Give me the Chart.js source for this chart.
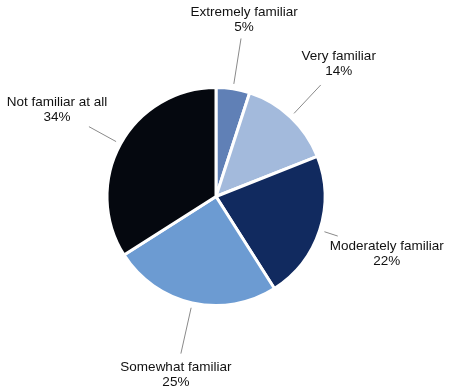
<!DOCTYPE html>
<html>
<head>
<meta charset="utf-8">
<script src="https://cdn.jsdelivr.net/npm/chart.js@4"></script>
<style>
  body { margin: 0; background: #fff; }
  #wrap { width: 450px; height: 390px; }
</style>
</head>
<body>
<div id="wrap"><canvas id="pie" width="450" height="390"></canvas></div>
<script>
const categories = ["Extremely familiar", "Very familiar", "Moderately familiar", "Somewhat familiar", "Not familiar at all"];
const shares = [5, 14, 22, 25, 34];
const colors = ["#6080b6", "#a3badc", "#112a5f", "#6c9bd2", "#05080f"];

// leader line length past the rim, then text block offset from the line end
const labelPlacement = [
    { len: 51, dx: 3, dy: -19 },
    { len: 44, dx: 18, dy: -21 },
    { len: 19, dx: 49, dy: 18 },
    { len: 52, dx: -5, dy: 21 },
    { len: 36, dx: -32, dy: -17 },
];

const outsideLabels = {
    id: "outsideLabels",
    afterDatasetsDraw(chart) {
        const ctx = chart.ctx;
        const arcs = chart.getDatasetMeta(0).data;
        ctx.save();
        ctx.font = "13.5px 'Liberation Sans', Arial, sans-serif";
        ctx.textAlign = "center";
        ctx.textBaseline = "middle";
        arcs.forEach((arc, i) => {
            const mid = (arc.startAngle + arc.endAngle) / 2;
            const cx = Math.cos(mid), cy = Math.sin(mid);
            const r = arc.outerRadius;
            const p = labelPlacement[i];
            const x0 = arc.x + cx * (r + 5), y0 = arc.y + cy * (r + 5);
            const x1 = arc.x + cx * (r + p.len), y1 = arc.y + cy * (r + p.len);
            ctx.strokeStyle = "#8a8a8a";
            ctx.lineWidth = 1;
            ctx.beginPath();
            ctx.moveTo(x0, y0);
            ctx.lineTo(x1, y1);
            ctx.stroke();
            const tx = x1 + p.dx, ty = y1 + p.dy;
            ctx.fillStyle = "#111";
            ctx.fillText(categories[i], tx, ty - 7.5);
            ctx.fillText(shares[i] + "%", tx, ty + 7.5);
        });
        ctx.restore();
    }
};

new Chart(document.getElementById("pie"), {
    type: "pie",
    data: {
        labels: categories,
        datasets: [{
            data: shares,
            backgroundColor: colors,
            borderColor: "#fff",
            borderWidth: 3,
        }]
    },
    options: {
        responsive: false,
        animation: false,
        layout: { padding: { top: 86, bottom: 83, left: 0, right: 18 } },
        plugins: {
            legend: { display: false },
            tooltip: { enabled: false },
        }
    },
    plugins: [outsideLabels]
});
</script>
</body>
</html>
